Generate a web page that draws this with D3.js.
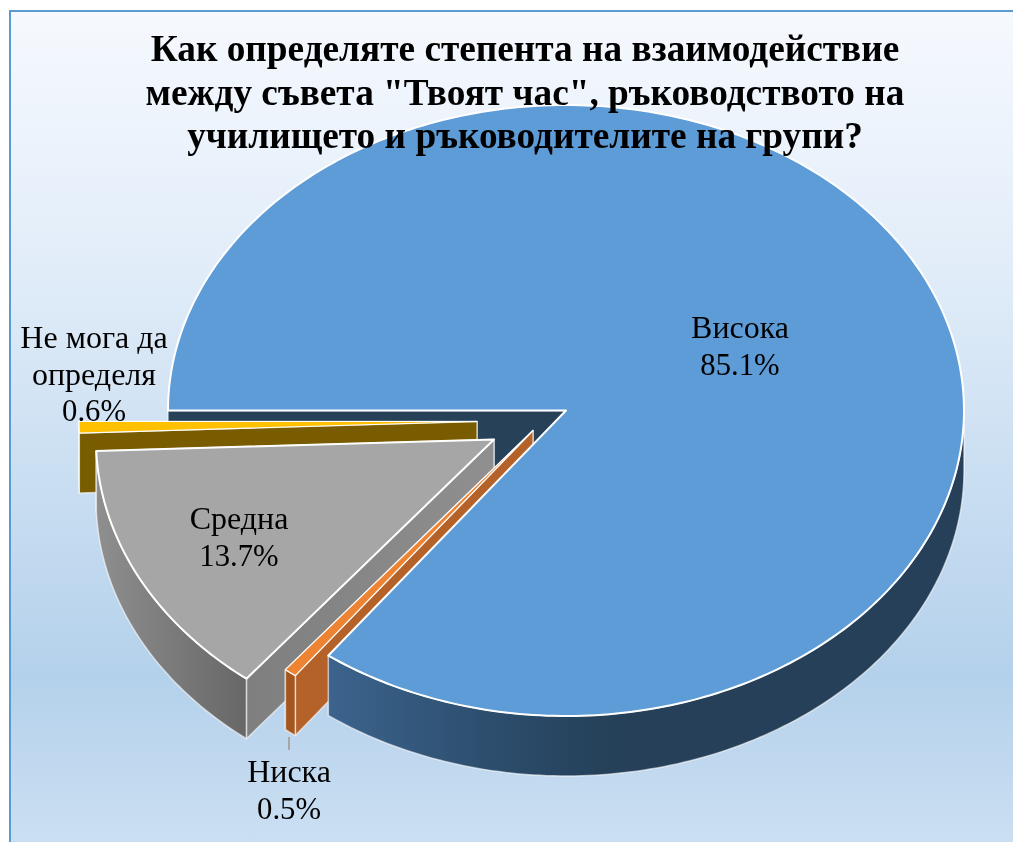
<!DOCTYPE html>
<html>
<head>
<meta charset="utf-8">
<script src="https://cdn.jsdelivr.net/npm/d3@7"></script>
<style>
  html, body { margin: 0; padding: 0; background: #fff; }
  svg { display: block; filter: blur(0.4px); }
  text { font-family: "Liberation Serif", "Times New Roman", serif; fill: #000; }
</style>
</head>
<body>
<div id="chart"></div>
<script>
const TITLE_LINES = [
	'Как определяте степента на взаимодействие',
	'между съвета "Твоят час", ръководството на',
	'училището и ръководителите на групи?'
];
const CATEGORIES = ['Висока', 'Ниска', 'Средна', 'Не мога да определя'];
const VALUES = [85.1, 0.5, 13.7, 0.6];
const LABEL_LINES = [
	['Висока'],
	['Ниска'],
	['Средна'],
	['Не мога да', 'определя']
];

const WIDTH = 1013;
const HEIGHT = 842;
const CENTER = { x: 566, y: 410.5 };
const RADIUS = { x: 398, y: 305.5 };
const DEPTH = 60;
const DEG = Math.PI / 180;

// how far each slice is pulled out of the pie, and where its label sits
const EXPLODE = [[0, 0], [-33, 20], [-72, 29], [-89, 11]];
const LABEL_POS = [[740, 338], [289, 782], [239, 529], [94, 348]];
const TOP_FILL = ['#5e9cd8', '#ed8433', '#a6a6a6', '#ffc000'];
const TOP_STROKE = [2, 1.2, 2, 1.2];
const CUT_FILL = ['#264158', '#b5622a', 'url(#cut-grey)', '#7a5c00'];
const RIM_FILL = ['url(#rim-blue)', '#a3571f', 'url(#rim-grey)', '#7a5c00'];

const svg = d3.select('#chart')
	.append('svg')
		.attr('width', WIDTH)
		.attr('height', HEIGHT);

const defs = svg.append('defs');

function gradient(id, x1, x2, y1, y2, stops) {
	const g = defs.append('linearGradient')
		.attr('id', id)
		.attr('gradientUnits', 'userSpaceOnUse')
		.attr('x1', x1).attr('x2', x2)
		.attr('y1', y1).attr('y2', y2);
	stops.forEach(s => g.append('stop').attr('offset', s[0]).attr('stop-color', s[1]));
}

gradient('bg', 0, 0, 10, 842, [[0, '#f6f9fe'], [0.3, '#e2edf9'], [0.8, '#b4d1eb'], [1, '#cbdff2']]);
gradient('rim-blue', 330, 964, 0, 0, [[0, '#3b638c'], [0.3, '#2a4a68'], [0.45, '#254058'], [1, '#254058']]);
gradient('rim-grey', 95, 250, 0, 0, [[0, '#8f8f8f'], [1, '#666666']]);
gradient('cut-grey', 250, 490, 0, 0, [[0, '#7f7f7f'], [1, '#8f8f8f']]);

// page background and frame
svg.append('rect')
	.attr('x', 10).attr('y', 11)
	.attr('width', WIDTH + 10).attr('height', HEIGHT + 10)
	.attr('fill', 'url(#bg)')
	.attr('stroke', '#5b9bd5')
	.attr('stroke-width', 2);

const pie = d3.pie()
	.sort(null)
	.startAngle(270 * DEG)
	.endAngle(630 * DEG);

const slices = pie(VALUES);

const line = d3.line();

function rimPoint(a, off, drop) {
	return [
		CENTER.x + off[0] + RADIUS.x * Math.sin(a),
		CENTER.y + off[1] + drop - RADIUS.y * Math.cos(a)
	];
}

function rimPoints(a0, a1, off, drop) {
	const n = Math.max(2, Math.ceil((a1 - a0) / DEG));
	return d3.range(n + 1).map(i => rimPoint(a0 + (a1 - a0) * i / n, off, drop));
}

function topPath(d, off) {
	return line([[CENTER.x + off[0], CENTER.y + off[1]]].concat(rimPoints(d.startAngle, d.endAngle, off, 0))) + 'Z';
}

function cutPath(a, off) {
	const apex = [CENTER.x + off[0], CENTER.y + off[1]];
	const rim = rimPoint(a, off, 0);
	return line([apex, rim, [rim[0], rim[1] + DEPTH], [apex[0], apex[1] + DEPTH]]) + 'Z';
}

// only the part of the rim between 90 and 270 degrees faces the viewer
function rimPaths(d, off) {
	return [90, 450].map(lo => [
		Math.max(d.startAngle, lo * DEG),
		Math.min(d.endAngle, (lo + 180) * DEG)
	])
	.filter(r => r[1] > r[0])
	.map(r => line(rimPoints(r[0], r[1], off, 0).concat(rimPoints(r[0], r[1], off, DEPTH).reverse())) + 'Z');
}

const pieGroup = svg.append('g')
	.attr('stroke', '#fff')
	.attr('stroke-linejoin', 'round');

function drawWall(path, fill) {
	pieGroup.append('path')
		.attr('d', path)
		.attr('fill', fill)
		.attr('stroke-width', 1.5)
		.attr('stroke-opacity', 0.6);
}

function drawSlice(i) {
	const d = slices[i];
	const off = EXPLODE[i];
	// the big slice has its cut face drawn first, under everything
	if (i > 0) {
		drawWall(cutPath(d.endAngle, off), CUT_FILL[i]);
		drawWall(cutPath(d.startAngle, off), CUT_FILL[i]);
	}
	rimPaths(d, off).forEach(p => drawWall(p, RIM_FILL[i]));
	pieGroup.append('path')
		.attr('d', topPath(d, off))
		.attr('fill', TOP_FILL[i])
		.attr('stroke-width', TOP_STROKE[i]);
}

drawWall(cutPath(slices[0].startAngle, EXPLODE[0]), CUT_FILL[0]);
[3, 2, 1, 0].forEach(drawSlice);

// leader line of the Ниска label
svg.append('line')
	.attr('x1', 289).attr('x2', 289)
	.attr('y1', 737).attr('y2', 750)
	.attr('stroke', '#a6a6a6')
	.attr('stroke-width', 2);

// data labels
const fmt = d3.format('.1f');
const labels = svg.append('g')
	.attr('font-size', 32)
	.attr('text-anchor', 'middle');

CATEGORIES.forEach((c, i) => {
	const lines = LABEL_LINES[i].concat(fmt(VALUES[i]) + '%');
	labels.append('text')
		.attr('x', LABEL_POS[i][0])
		.attr('y', LABEL_POS[i][1])
		.selectAll('tspan')
		.data(lines)
		.join('tspan')
			.attr('x', LABEL_POS[i][0])
			.attr('dy', (l, j) => j ? 36.5 : 0)
			.attr('font-size', (l, j) => j === lines.length - 1 ? 30.7 : null)
			.text(l => l);
});

svg.append('text')
	.attr('x', 525)
	.attr('y', 61)
	.attr('font-size', 37.3)
	.attr('font-weight', 'bold')
	.attr('text-anchor', 'middle')
	.selectAll('tspan')
	.data(TITLE_LINES)
	.join('tspan')
		.attr('x', 525)
		.attr('dy', (l, j) => j ? 43.5 : 0)
		.text(l => l);
</script>
</body>
</html>
